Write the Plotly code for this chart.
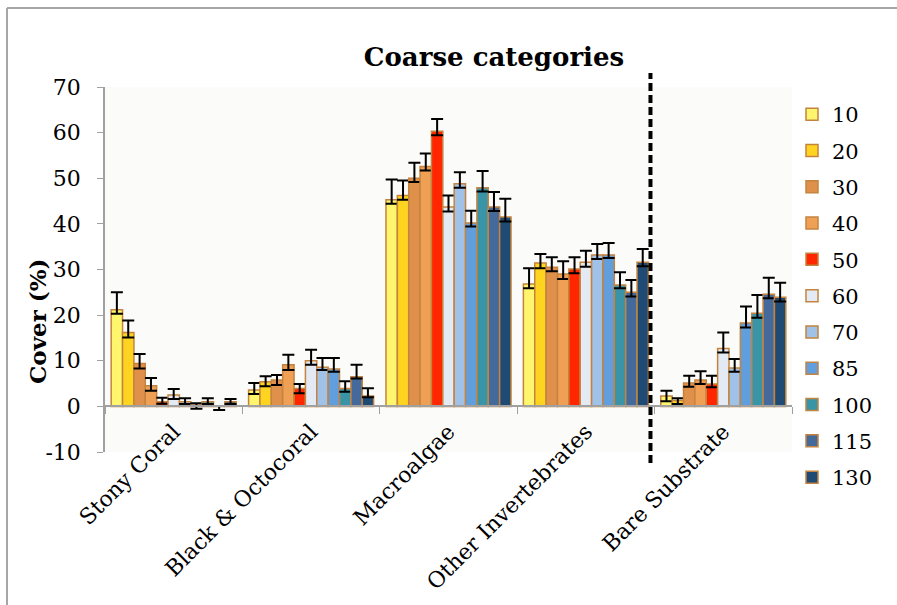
import plotly.graph_objects as go

# Benthic cover by depth (m) for five coarse categories
categories = ["Stony Coral", "Black & Octocoral", "Macroalgae",
              "Other Invertebrates", "Bare Substrate"]
depths = ["10", "20", "30", "40", "50", "60", "70", "85", "100", "115", "130"]
y_ticks = [-10, 0, 10, 20, 30, 40, 50, 60, 70]

# Mean cover (%) per depth, ordered as in `categories`
cover_10 = [21.2, 3.6, 45.3, 26.8, 2.3]
cover_20 = [16.2, 5.4, 46.2, 31.4, 1.3]
cover_30 = [9.4, 5.8, 50.0, 30.5, 5.1]
cover_40 = [4.5, 9.1, 52.6, 29.0, 5.8]
cover_50 = [1.0, 3.9, 60.3, 30.1, 4.9]
cover_60 = [2.5, 10.0, 43.7, 31.6, 12.7]
cover_70 = [1.0, 8.6, 48.8, 33.2, 8.4]
cover_85 = [0.3, 8.2, 40.2, 33.2, 18.3]
cover_100 = [1.0, 3.9, 47.9, 26.6, 20.4]
cover_115 = [0.0, 6.5, 43.7, 25.0, 24.6]
cover_130 = [1.0, 2.3, 41.5, 31.6, 23.9]

# Upper and lower ends of the error bars (%)
upper_10 = [25.0, 5.1, 49.7, 30.3, 3.4]
upper_20 = [18.8, 6.6, 49.5, 33.4, 1.8]
upper_30 = [11.5, 6.9, 53.4, 32.7, 6.7]
upper_40 = [6.2, 11.3, 55.4, 31.8, 7.7]
upper_50 = [1.9, 4.9, 63.0, 32.7, 6.7]
upper_60 = [3.8, 12.4, 46.2, 34.1, 16.2]
upper_70 = [1.8, 10.6, 51.3, 35.6, 10.4]
upper_85 = [0.7, 10.6, 42.9, 35.8, 21.9]
upper_100 = [1.8, 5.5, 51.6, 29.4, 24.4]
upper_115 = [0.1, 9.1, 47.0, 27.7, 28.2]
upper_130 = [1.6, 4.0, 45.5, 34.5, 27.1]

lower_10 = [20.3, 2.7, 44.4, 25.9, 1.1]
lower_20 = [15.1, 4.4, 45.3, 30.3, 0.5]
lower_30 = [8.3, 4.7, 49.2, 29.6, 4.3]
lower_40 = [3.4, 8.0, 51.7, 27.9, 4.9]
lower_50 = [0.6, 2.9, 59.4, 29.2, 4.2]
lower_60 = [1.6, 9.1, 42.7, 30.6, 11.8]
lower_70 = [0.5, 8.0, 47.9, 32.3, 7.6]
lower_85 = [-0.5, 7.6, 39.4, 32.5, 17.3]
lower_100 = [0.5, 3.2, 47.1, 25.9, 19.4]
lower_115 = [-0.8, 6.1, 42.8, 24.1, 23.7]
lower_130 = [0.5, 2.0, 40.5, 30.7, 23.0]

covers = [cover_10, cover_20, cover_30, cover_40, cover_50, cover_60,
          cover_70, cover_85, cover_100, cover_115, cover_130]
uppers = [upper_10, upper_20, upper_30, upper_40, upper_50, upper_60,
          upper_70, upper_85, upper_100, upper_115, upper_130]
lowers = [lower_10, lower_20, lower_30, lower_40, lower_50, lower_60,
          lower_70, lower_85, lower_100, lower_115, lower_130]

colors = ["#FFF66E", "#FFD421", "#DF914C", "#EFA055", "#FF2600", "#E3EAF3",
          "#A1C2E8", "#609EDD", "#3A94A8", "#44699B", "#1F4A74"]
outline = "#C4843F"

SERIF = "DejaVu Serif"

fig = go.Figure()
for d, vals, up, lo, c in zip(depths, covers, uppers, lowers, colors):
    fig.add_trace(go.Bar(
        name=d, x=categories, y=vals, legendgroup=d,
        marker=dict(color=c, line=dict(color=outline, width=1.5)),
        error_y=dict(type="data", symmetric=False,
                     array=[u - v for u, v in zip(up, vals)],
                     arrayminus=[v - l for v, l in zip(vals, lo)],
                     color="black", thickness=2, width=6),
    ))

# plot area: x 105..792 px, y 87..452 px
L, R, T, B = 105, 105, 87, 153
W, H = 897 - L - R, 605 - T - B


def px_x(p):
    return (p - L) / W


def px_y(p):
    return (605 - B - p) / H


frame = dict(color="#A6A6A6", width=2)

fig.update_layout(
    width=897, height=605,
    margin=dict(l=L, r=R, t=T, b=B, autoexpand=False),
    paper_bgcolor="white",
    plot_bgcolor="#FBFBF9",
    barmode="group", bargap=0.09, bargroupgap=0,
    font=dict(family=SERIF, size=20, color="black"),
    title=dict(text="<b>Coarse categories</b>", x=px_x(494), xref="paper",
               xanchor="center", y=1 - 57 / 605, yref="container",
               yanchor="middle", font=dict(family=SERIF, size=26)),
    showlegend=True,
    legend=dict(x=px_x(792), xanchor="left", y=px_y(94), yanchor="top",
                maxheight=440,
                traceorder="grouped", tracegroupgap=6,
                font=dict(family=SERIF, size=21), bgcolor="rgba(0,0,0,0)"),
    yaxis=dict(range=[-10, 70], tickvals=y_ticks,
               ticktext=[str(v) for v in y_ticks],
               showgrid=False, zeroline=False,
               showline=True, linecolor="#A0A0A0", linewidth=1.5,
               ticks="outside", ticklen=6, tickcolor="#A0A0A0",
               ticklabelstandoff=12, tickfont=dict(family=SERIF, size=22)),
    xaxis=dict(anchor="free", position=10 / 80, showgrid=False,
               showline=True, linecolor="#A0A0A0", linewidth=1.5,
               ticks="outside", tickson="boundaries", ticklen=7,
               tickcolor="#A0A0A0", tickangle=-45, ticklabelstandoff=3,
               tickfont=dict(family=SERIF, size=22)),
    annotations=[dict(text="<b>Cover (%)</b>", textangle=-90,
                      x=px_x(37), y=px_y(322), xref="paper", yref="paper",
                      xanchor="center", yanchor="middle",
                      showarrow=False, font=dict(family=SERIF, size=23))],
    shapes=[
        # outer chart frame (left and top edges)
        dict(type="line", xref="paper", yref="paper",
             x0=px_x(7), x1=px_x(7), y0=px_y(605), y1=px_y(8), line=frame),
        dict(type="line", xref="paper", yref="paper",
             x0=px_x(7), x1=px_x(897), y0=px_y(8), y1=px_y(8), line=frame),
        # separator before the bare-substrate group
        dict(type="line", xref="x", yref="paper", x0=3.47, x1=3.47,
             y0=px_y(463), y1=px_y(73),
             line=dict(color="black", width=4, dash="8px,4px")),
    ],
)

fig.write_html("out.html")
